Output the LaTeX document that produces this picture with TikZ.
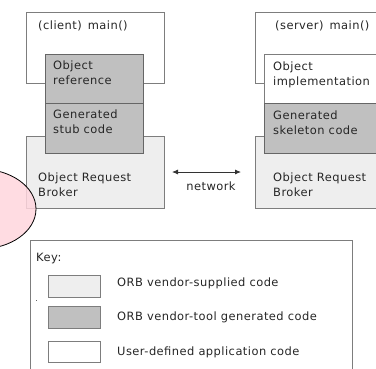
\documentclass[tikz,border=0pt]{standalone}
\usepackage{fontspec}
\setmainfont{DejaVu Sans}[LetterSpace=4]
\usetikzlibrary{arrows.meta,shapes.geometric}
\definecolor{vendorgray}{RGB}{238,238,238}
\definecolor{toolgray}{RGB}{192,192,192}
\definecolor{edgegray}{RGB}{125,125,125}
\definecolor{blobpink}{RGB}{255,214,222}
\tikzset{
  box/.style={draw=edgegray, line width=1.3pt, anchor=north west, inner sep=0pt},
  vendor/.style={box, fill=vendorgray},
  tool/.style={box, fill=toolgray, draw=black!60},
  user/.style={box, fill=white},
  lbl/.style={anchor=north west, inner sep=0pt, align=left, font=\fontsize{11.5}{14.5}\selectfont, text=black!85},
}
\begin{document}
\begin{tikzpicture}[x=1bp, y=-1bp]
\useasboundingbox (0,0) rectangle (376,369);
\clip (0,0) rectangle (376,369);
\fill[white] (0,0) rectangle (376,369);

% client side
\node[user, minimum width=138bp, minimum height=71bp] (cmain) at (26,12) {};
\node[vendor, minimum width=138bp, minimum height=72bp] (corb) at (26,136) {};
\node[tool, minimum width=98bp, minimum height=49bp] (cref) at (45,54) {};
\node[tool, minimum width=98bp, minimum height=50bp] (cstub) at (45,103) {};
\node[lbl] (tcmain) at (38,21) {(client)\, main()};
\node[lbl] (tcref) at (53,61) {Object\\reference};
\node[lbl] (tcstub) at (53,110) {Generated\\stub code};
\node[lbl] (tcorb) at (38,173) {Object Request\\Broker};

% server side
\node[user, minimum width=140bp, minimum height=71bp] (smain) at (255,12) {};
\node[vendor, minimum width=140bp, minimum height=72bp] (sorb) at (255,136) {};
\node[user, minimum width=130bp, minimum height=49bp] (simpl) at (264,54) {};
\node[tool, minimum width=130bp, minimum height=50bp] (sskel) at (264,103) {};
\node[lbl] (tsmain) at (275,21) {(server)\, main()};
\node[lbl] (tsimpl) at (273,62) {Object\\implementation};
\node[lbl] (tsskel) at (273,111) {Generated\\skeleton code};
\node[lbl] (tsorb) at (273,173) {Object Request\\Broker};

% network link
\coordinate (netL) at (172,172);
\coordinate (netR) at (241,172);
\draw[{Latex[length=6bp,width=5bp]}-{Latex[length=6bp,width=5bp]}, line width=0.8pt, black!80] (netL) -- (netR);
\node[lbl, anchor=north] (tnet) at (211,182) {network};

% pink blob
\node[ellipse, draw=black, line width=0.8pt, fill=blobpink, fill opacity=0.85, minimum width=112bp, minimum height=80bp, inner sep=0pt] (blob) at (-20,209) {};

% key
\node[box, fill=white, minimum width=322bp, minimum height=150bp] (key) at (30,240) {};
\node[lbl] (tkey) at (36,253) {Key:};
\node[vendor, minimum width=52bp, minimum height=22bp] (k1) at (48,275) {};
\node[tool, draw=edgegray, minimum width=52bp, minimum height=22bp] (k2) at (48,306) {};
\node[user, minimum width=52bp, minimum height=21bp] (k3) at (48,341) {};
\node[lbl, anchor=west] (tk1) at (117,283) {ORB vendor-supplied code};
\node[lbl, anchor=west] (tk2) at (117,317) {ORB vendor-tool generated code};
\node[lbl, anchor=west] (tk3) at (117,352) {User-defined application code};
\fill[black!60] (35.5,299.5) rectangle (37,300.5);
\end{tikzpicture}
\end{document}
